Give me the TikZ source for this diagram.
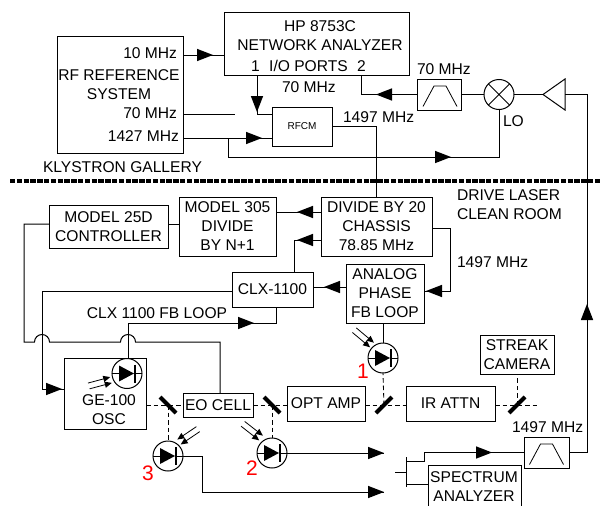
\documentclass[tikz,border=0pt]{standalone}
\usepackage{fontspec}
\setmainfont{Liberation Sans}
\begin{document}
\newcommand{\tipat}[3]{\fill[shift={(#1,#2)},rotate=#3] (0,0)--(-16,6.2)--(-16,-6.2)--cycle;}
\newcommand{\lightrays}[3]{%
 \begin{scope}[shift={(#1,#2)},rotate=#3]
  \draw[line width=.8pt] (-23,-3)--(-3,-3);
  \draw[line width=.8pt] (-23,3)--(-3,3);
  \fill (0,-3)--(-7,-6.2)--(-7,.2)--cycle;
  \fill (0,3)--(-7,-.2)--(-7,6.2)--cycle;
 \end{scope}}
\newcommand{\diodemark}[2]{%
 \fill (#1-8,#2-8)--(#1+7,#2)--(#1-8,#2+8)--cycle;
 \draw[line width=1.3pt] (#1+8,#2-9)--(#1+8,#2+9);
 \draw (#1-15,#2)--(#1-8,#2) (#1+8,#2)--(#1+15,#2);}
\newcommand{\mirror}[4]{\draw[mirrorline] (#1,#2)--(#3,#4);}
\begin{tikzpicture}[x=1pt,y=-1pt,line width=1pt,
  every node/.style={inner sep=0pt,outer sep=0pt,font=\fontsize{15.6}{19}\selectfont,align=center},
  box/.style={draw,rectangle},
  pdcirc/.style={draw,circle,minimum size=30pt},
  mirrorline/.style={line width=4pt},
  beam/.style={dash pattern=on 4.5pt off 3pt,line width=.9pt},
  bigred/.style={text=red,font=\fontsize{21}{21}\selectfont}]
\useasboundingbox (0,0) rectangle (600,506);
\clip (0,0) rectangle (600,506);
\fill[white] (0,0) rectangle (600,506);
% boxes
\node[box,minimum width=126pt,minimum height=117pt] (rf) at (120,94.5) {};
\node[box,minimum width=185pt,minimum height=63pt] (hp) at (316.5,43.5) {};
\node[box,minimum width=60pt,minimum height=39pt,font=\fontsize{10}{12}\selectfont] (rfcm) at (302,126.5) {RFCM};
\node[box,minimum width=44pt,minimum height=31pt] (bp1) at (439,94.5) {};
\node[draw,circle,minimum size=30pt] (mix) at (499,94.5) {};
\node[box,minimum width=119pt,minimum height=43pt] (ctrl) at (108.5,226.5) {MODEL 25D\\CONTROLLER};
\node[box,minimum width=97pt,minimum height=59pt] (m305) at (227.5,226.5) {MODEL 305\\DIVIDE\\BY N+1};
\node[box,minimum width=111pt,minimum height=59pt] (div) at (376.5,226.5) {DIVIDE BY 20\\CHASSIS\\78.85 MHz};
\node[box,minimum width=81pt,minimum height=35pt] (clx) at (272.5,289.5) {CLX-1100};
\node[box,minimum width=78pt,minimum height=59pt] (apfb) at (385,293.5) {ANALOG\\PHASE\\FB LOOP};
\node[box,minimum width=82pt,minimum height=71pt] (ge) at (105,393.5) {};
\node[box,minimum width=70pt,minimum height=24pt] (eo) at (218,405) {EO CELL};
\node[box,minimum width=78pt,minimum height=35pt] (amp) at (326,403.5) {OPT AMP};
\node[box,minimum width=89pt,minimum height=35pt] (ir) at (450.5,403.5) {IR ATTN};
\node[box,minimum width=74pt,minimum height=39pt] (streak) at (517,354.5) {STREAK\\CAMERA};
\node[box,minimum width=45pt,minimum height=31pt] (bp2) at (546.5,452.5) {};
\node[box,minimum width=93pt,minimum height=60pt] (sa) at (474.5,495) {};
\node (tsa) at (474,486.5) {SPECTRUM\\ANALYZER};
% photodiodes
\node[pdcirc] (d4) at (127,373.5) {};
\node[pdcirc] (d1) at (383,358) {};
\node[pdcirc] (d2) at (272,453) {};
\node[pdcirc] (d3) at (168,456) {};
\diodemark{127}{373.5}\diodemark{383}{358}\diodemark{272}{453}\diodemark{168}{456}
% triangle amp
\coordinate (amptip) at (543,94.5);
\draw (amptip)--(565,79)--(565,110)--cycle;
% band pass glyphs
\draw[line width=.8pt] (bp1.center)+(-16,12)--+(-5,-8.5)--+(7,-8.5)--+(18,12);
\draw[line width=.8pt] (bp2.center)+(-17,12)--+(-6,-8.5)--+(6,-8.5)--+(17,12);
% mixer cross
\draw (mix.45)--(mix.225) (mix.135)--(mix.315);
% wall
\coordinate (wallL) at (10,181); \coordinate (wallR) at (600,181);
\draw[line width=4pt,dash pattern=on 5.4pt off 1.4pt] (wallL)--(wallR);
% coordinates for free ends
\coordinate (rf70end) at (235,114);
\coordinate (beamend) at (540,405);
\coordinate (m1) at (168,405);\coordinate (m2) at (272,405);\coordinate (m3) at (384,405);\coordinate (m4) at (517,405);
% connectors top
\draw (rf.east|-0,55)--(hp.west|-0,55);\tipat{213}{55}{0}
\draw (rf.east|-0,114)--(rf70end);
\draw (rf.east|-0,138)--(rfcm.west|-0,138);\tipat{262}{138}{0}
\draw (228,138)--(228,157)--(mix.south|-0,157)--(mix.south);\tipat{451}{157}{0}
\draw (257,75)--(257,114)--(rfcm.west|-0,114);\tipat{257}{112}{-90}
\draw (361,75)--(361,94.5)--(bp1.west);\tipat{376}{94.5}{180}
\draw (bp1.east)--(mix.west);
\draw (mix.east)--(amptip);
\draw (565,94.5)--(587,94.5)--(587,452.5)--(bp2.east);\tipat{587}{304}{90}
\draw (rfcm.east|-0,126)--(376,126)--(376,197);
% middle
\draw (div.west|-0,212)--(m305.east|-0,212);\tipat{297}{212}{180}
\draw (div.west|-0,240)--(294,240)--(294,272);\tipat{297}{240}{180}
\draw (ctrl.east|-0,224)--(m305.west|-0,224);
\draw (432,228)--(450,228)--(450,291)--(424,291);\tipat{426}{291}{180}
\draw (apfb.west|-0,287)--(clx.east|-0,287);\tipat{324}{287}{180}
\draw (383,323)--(d1.north);
% loops
\draw (ctrl.west|-0,224)--(24,224)--(24,342)--(34.5,342) arc[start angle=180,end angle=360,radius=7.5]--(120.5,342) arc[start angle=180,end angle=360,radius=7.5]--(220,342)--(220,393);
\draw (clx.west|-0,291)--(42,291)--(42,389)--(ge.west|-0,389);\tipat{62}{389}{0}
\draw (276,307)--(276,323)--(128,323)--(128,358);\tipat{254}{323}{0}
% beam
\draw[beam] (ge.east|-0,405)--(eo.west);
\draw[beam] (eo.east)--(amp.west|-0,405);
\draw[beam] (amp.east|-0,405)--(ir.west|-0,405);
\draw[beam] (ir.east|-0,405)--(beamend);
\draw[beam] (m1)--(d3.north);
\draw[beam] (m2)--(d2.north);
\draw[beam] (m3)--(d1.south);
\draw[beam] (m4)--(streak.south);
\mirror{160}{397}{176}{413}\mirror{264}{397}{280}{413}\mirror{376}{413}{392}{397}\mirror{509}{413}{525}{397}
% light arrows
\lightrays{111}{380}{15}
\lightrays{179}{442}{-146}
\lightrays{261}{438}{-38}
\lightrays{372}{345}{-40}
% outputs
\draw (d2.east)--(384,453);\tipat{384}{453}{0}
\draw (d3.east)--(202,456)--(202,492)--(384,492);\tipat{384}{492}{0}
\draw (406,457)--(406,487) (395,472)--(406,472);
\draw (406,461)--(424,461)--(424,452.5)--(bp2.west);\tipat{492}{452.5}{0}
\draw (406,484)--(sa.west|-0,484);
% labels
\node[anchor=east] (t10) at (177,53) {10 MHz};
\node (trf) at (119,85) {RF REFERENCE\\SYSTEM};
\node[anchor=east] (t70) at (177,113) {70 MHz};
\node[anchor=east] (t1427) at (179,136) {1427 MHz};
\node[anchor=west] (tkly) at (43,167) {KLYSTRON GALLERY};
\node (thp) at (320,36) {HP 8753C\\NETWORK ANALYZER};
\node (tio) at (308.5,65.5) {1\hspace{.6em}I/O PORTS\hspace{.6em}2};
\node[anchor=west] (t70b) at (282,87) {70 MHz};
\node[anchor=west] (t70c) at (417,69) {70 MHz};
\node[anchor=west] (t1497) at (343,117) {1497 MHz};
\node[anchor=west] (tlo) at (503,121) {LO};
\node[align=left,anchor=west] (tdrive) at (457,204.5) {DRIVE LASER\\CLEAN ROOM};
\node[anchor=west] (t1497b) at (457,262) {1497 MHz};
\node (tfb) at (157,313) {CLX 1100 FB LOOP};
\node (tge) at (109,409.5) {GE-100\\OSC};
\node[anchor=west] (t1497c) at (512,427) {1497 MHz};
\node[bigred] (r1) at (363,371) {1};
\node[bigred] (r2) at (252,468) {2};
\node[bigred] (r3) at (148,473) {3};
\end{tikzpicture}
\end{document}
